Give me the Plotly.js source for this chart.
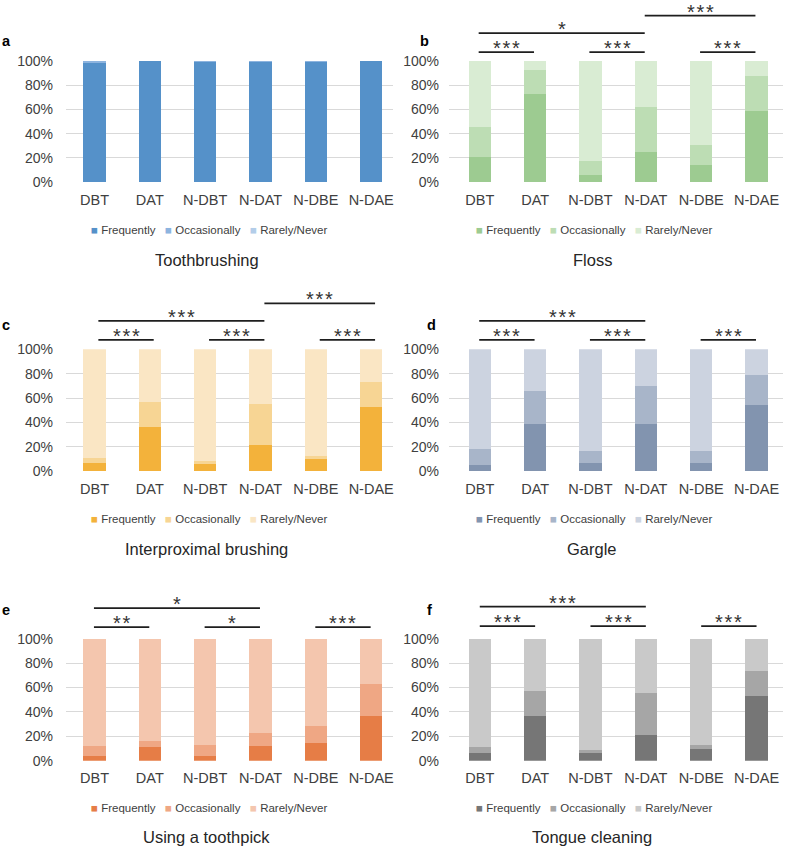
<!DOCTYPE html>
<html>
<head>
<meta charset="utf-8">
<script src="https://cdn.plot.ly/plotly-3.0.1.min.js"></script>
<style>html,body{margin:0;padding:0;background:#fff}#chart{width:787px;height:848px}</style>
</head>
<body>
<div id="chart"></div>
<script>
// ---------- DATA ----------
const categories = ['DBT', 'DAT', 'N-DBT', 'N-DAT', 'N-DBE', 'N-DAE'];
const seriesNames = ['Frequently', 'Occasionally', 'Rarely/Never'];
const panelTitles = ['Toothbrushing', 'Floss', 'Interproximal brushing', 'Gargle', 'Using a toothpick', 'Tongue cleaning'];
const panelLetters = ['a', 'b', 'c', 'd', 'e', 'f'];
const yTickVals = [0, 20, 40, 60, 80, 100];
const yTickLabels = ['0%', '20%', '40%', '60%', '80%', '100%'];

// percentages per group (Frequently / Occasionally / Rarely-Never)
const toothbrushingFrequently = [98.1, 100, 98.8, 99.2, 98.8, 100];
const toothbrushingOccasionally = [1.9, 0, 1.2, 0.8, 1.2, 0];
const toothbrushingRarely = [0, 0, 0, 0, 0, 0];

const flossFrequently = [20.8, 72.6, 6.0, 25.2, 14.5, 58.6];
const flossOccasionally = [24.7, 19.4, 11.8, 36.4, 16.2, 28.5];
const flossRarely = [54.5, 8.0, 82.2, 38.4, 69.3, 12.9];

const interproximalFrequently = [6.8, 36.3, 6.3, 21.3, 9.8, 53.0];
const interproximalOccasionally = [4.4, 20.8, 2.4, 33.6, 3.0, 20.2];
const interproximalRarely = [88.8, 42.9, 91.3, 45.1, 87.2, 26.8];

const gargleFrequently = [5.5, 39.1, 7.1, 38.5, 7.1, 54.1];
const gargleOccasionally = [12.8, 26.7, 9.8, 31.4, 9.8, 25.1];
const gargleRarely = [81.7, 34.2, 83.1, 30.1, 83.1, 20.8];

const toothpickFrequently = [4.1, 11.2, 3.6, 12.0, 14.8, 36.9];
const toothpickOccasionally = [7.9, 4.9, 9.0, 10.4, 13.9, 26.2];
const toothpickRarely = [88.0, 83.9, 87.4, 77.6, 71.3, 36.9];

const tongueFrequently = [6.3, 36.4, 6.3, 21.1, 9.6, 52.9];
const tongueOccasionally = [4.7, 20.9, 2.2, 34.0, 3.0, 20.5];
const tongueRarely = [89.0, 42.7, 91.5, 44.9, 87.4, 26.6];

// significance comparisons: [from category index, to category index, level, stars]
const sigToothbrushing = [];
const sigFloss = [[0, 1, 0, 3], [2, 3, 0, 3], [4, 5, 0, 3], [0, 3, 1, 1], [3, 5, 2, 3]];
const sigInterproximal = [[0, 1, 0, 3], [2, 3, 0, 3], [4, 5, 0, 3], [0, 3, 1, 3], [3, 5, 2, 3]];
const sigGargle = [[0, 1, 0, 3], [2, 3, 0, 3], [4, 5, 0, 3], [0, 3, 1, 3]];
const sigToothpick = [[0, 1, 0, 2], [2, 3, 0, 1], [4, 5, 0, 3], [0, 3, 1, 1]];
const sigTongue = [[0, 1, 0, 3], [2, 3, 0, 3], [4, 5, 0, 3], [0, 3, 1, 3]];

// ---------- STYLE / LAYOUT ----------
const W = 787, H = 848;
const FONT = 'Liberation Sans, Arial, sans-serif';
const TXT = '#404040';

const panelData = [
  [toothbrushingFrequently, toothbrushingOccasionally, toothbrushingRarely],
  [flossFrequently, flossOccasionally, flossRarely],
  [interproximalFrequently, interproximalOccasionally, interproximalRarely],
  [gargleFrequently, gargleOccasionally, gargleRarely],
  [toothpickFrequently, toothpickOccasionally, toothpickRarely],
  [tongueFrequently, tongueOccasionally, tongueRarely]
];
const panelSig = [sigToothbrushing, sigFloss, sigInterproximal, sigGargle, sigToothpick, sigTongue];
const panelColors = [
  ['#5591C9', '#8DB4DF', '#B3CDE9'],
  ['#9DCB91', '#BDDDB4', '#D9ECD3'],
  ['#F3B23B', '#F7D594', '#FAE6C4'],
  ['#8294AF', '#A8B5C9', '#CCD3E0'],
  ['#E67D46', '#EFA784', '#F4C6AE'],
  ['#767676', '#A6A6A6', '#C9C9C9']
];

// column geometry (pixels)
const cols = [
  {x0: 66, x1: 393, r0: -0.515, r1: 5.394, center: 209, standoff: 12},
  {x0: 449, x1: 783, r0: -0.556, r1: 5.478, center: 594, standoff: 9}
];
// row geometry (pixels): top = 100%, bot = 0%
const rows = [
  {top: 60.7, bot: 182.3, legend: 230, title: 260, letter: 41},
  {top: 349.3, bot: 471.3, legend: 519, title: 549, letter: 325},
  {top: 638.7, bot: 760.7, legend: 808, title: 837, letter: 610}
];
const levelPx = [[9, 28, 46], [8.5, 27.5, 45], [9.5, 28.5, 46], [9.5, 28.5, 46], [11.5, 30.5, 46], [12.5, 32, 46]];
const sigShift = [0, -0.02, 0.07, -0.01, -0.01, 0];
const letterXs = [0, 418, 0, 425, 0, 425];

const NB = '\u00A0';
function legendText(colors) {
  return seriesNames.map((nm, i) =>
    '<span style="color:' + colors[i] + '">\u25A0</span>' + NB + nm
  ).join(NB + NB + NB);
}
function starText(k) {
  return Array(k).fill('*').join('\u200A');
}

const traces = [];
const layout = {
  width: W, height: H,
  margin: {l: 0, r: 0, t: 0, b: 0},
  paper_bgcolor: '#ffffff', plot_bgcolor: '#ffffff',
  barmode: 'stack', bargap: 0.6,
  font: {family: FONT, color: TXT},
  showlegend: false,
  shapes: [], annotations: []
};

for (let p = 0; p < 6; p++) {
  const col = cols[p % 2];
  const row = rows[Math.floor(p / 2)];
  const n = p === 0 ? '' : String(p + 1);
  const xa = 'x' + n, ya = 'y' + n;
  for (let s = 0; s < 3; s++) {
    traces.push({
      type: 'bar', x: categories, y: panelData[p][s], name: seriesNames[s],
      xaxis: xa, yaxis: ya,
      marker: {color: panelColors[p][s], line: {width: 0}},
      hoverinfo: 'x+y+name'
    });
  }
  layout['xaxis' + n] = {
    domain: [col.x0 / W, col.x1 / W], anchor: ya,
    range: [col.r0, col.r1], type: 'category',
    showgrid: false, zeroline: false, showline: false, ticks: '',
    tickfont: {family: FONT, size: 14.5, color: TXT},
    ticklabelstandoff: 7, fixedrange: true
  };
  layout['yaxis' + n] = {
    domain: [1 - row.bot / H, 1 - row.top / H], anchor: xa,
    range: [0, 100], tickmode: 'array', tickvals: yTickVals, ticktext: yTickLabels,
    showgrid: true, gridcolor: '#D9D9D9', gridwidth: 1,
    zeroline: false, showline: false, ticks: '',
    tickfont: {family: FONT, size: 14, color: TXT},
    ticklabelstandoff: col.standoff, fixedrange: true
  };
  // legend (one line of coloured squares + series names)
  layout.annotations.push({
    xref: 'paper', yref: 'paper', x: col.center / W, y: 1 - row.legend / H,
    xanchor: 'center', yanchor: 'middle', showarrow: false,
    text: legendText(panelColors[p]), font: {family: FONT, size: 11.5, color: TXT}
  });
  // panel title
  layout.annotations.push({
    xref: 'paper', yref: 'paper', x: col.center / W - 2 / W, y: 1 - row.title / H,
    xanchor: 'center', yanchor: 'middle', showarrow: false,
    text: panelTitles[p], font: {family: FONT, size: 16.5, color: '#262626'}
  });
  // panel letter
  layout.annotations.push({
    xref: 'paper', yref: 'paper', x: letterXs[p] / W, y: 1 - row.letter / H,
    xanchor: 'left', yanchor: 'middle', showarrow: false,
    text: '<b>' + panelLetters[p] + '</b>', font: {family: FONT, size: 14.5, color: '#000000'}
  });
  // significance brackets
  const plotH = row.bot - row.top;
  const toFrac = v => (v - col.r0) / (col.r1 - col.r0);
  panelSig[p].forEach(([a, b, lvl, k]) => {
    const off = levelPx[p][lvl];
    const yv = 1 + off / plotH;
    const xa0 = toFrac(a + sigShift[p]), xa1 = toFrac(b + sigShift[p]);
    layout.shapes.push({
      type: 'line', xref: xa + ' domain', yref: ya + ' domain',
      x0: xa0, x1: xa1, y0: yv, y1: yv,
      line: {color: '#1E1E1E', width: 1.8}
    });
    layout.annotations.push({
      xref: xa + ' domain', yref: ya + ' domain',
      x: (xa0 + xa1) / 2, y: 1 + (off + 4) / plotH,
      xanchor: 'center', yanchor: 'middle', showarrow: false,
      text: starText(k), font: {family: FONT, size: 20, color: '#333333'}
    });
  });
}

Plotly.newPlot('chart', traces, layout, {displayModeBar: false, staticPlot: true});
</script>
</body>
</html>
